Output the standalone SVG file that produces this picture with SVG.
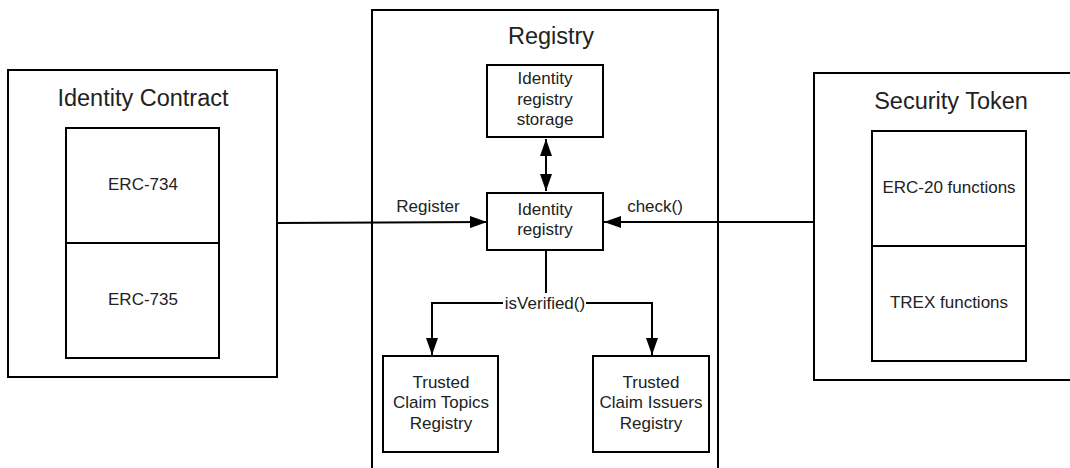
<svg xmlns="http://www.w3.org/2000/svg" width="1070" height="468" viewBox="0 0 1070 468">
<style>
.box{fill:#fff;stroke:#000;stroke-width:2}
.t{font-family:"Liberation Sans",Arial,sans-serif;fill:#222;text-anchor:middle}
.big{font-size:23.5px}
.sm{font-size:17px}
.ln{fill:none;stroke:#000;stroke-width:2}
</style>
<defs>
<marker id="ah" viewBox="0 0 17 12" refX="17" refY="6" markerWidth="17" markerHeight="12" markerUnits="userSpaceOnUse" orient="auto-start-reverse">
<path d="M0,0 L17,6 L0,12 z" fill="#000"/>
</marker>
</defs>
<rect width="1070" height="468" fill="#fff"/>
<g id="identity-contract">
<rect class="box" x="8" y="70" width="269" height="307"/>
<text class="t big" x="143" y="106">Identity Contract</text>
</g>
<g id="erc734">
<rect class="box" x="66" y="128" width="153" height="115"/>
<text class="t sm" x="143" y="190">ERC-734</text>
</g>
<g id="erc735">
<rect class="box" x="66" y="243" width="153" height="115"/>
<text class="t sm" x="143" y="305">ERC-735</text>
</g>
<g id="registry">
<rect class="box" x="372" y="10" width="346" height="470"/>
<text class="t big" x="551" y="44">Registry</text>
</g>
<g id="identity-registry-storage">
<rect class="box" x="487" y="65" width="116" height="72"/>
<text class="t sm" x="545" y="84">Identity</text>
<text class="t sm" x="545" y="105">registry</text>
<text class="t sm" x="545" y="125">storage</text>
</g>
<g id="identity-registry">
<rect class="box" x="487" y="193" width="116" height="57"/>
<text class="t sm" x="545" y="215">Identity</text>
<text class="t sm" x="545" y="235">registry</text>
</g>
<g id="trusted-claim-topics-registry">
<rect class="box" x="383" y="356" width="115" height="96"/>
<text class="t sm" x="441" y="388">Trusted</text>
<text class="t sm" x="441" y="408">Claim Topics</text>
<text class="t sm" x="441" y="429">Registry</text>
</g>
<g id="trusted-claim-issuers-registry">
<rect class="box" x="593" y="356" width="116" height="96"/>
<text class="t sm" x="651" y="388">Trusted</text>
<text class="t sm" x="651" y="408">Claim Issuers</text>
<text class="t sm" x="651" y="429">Registry</text>
</g>
<g id="security-token">
<rect class="box" x="814" y="73" width="262" height="307"/>
<text class="t big" x="951" y="109">Security Token</text>
</g>
<g id="erc20-functions">
<rect class="box" x="872" y="131" width="154" height="115"/>
<text class="t sm" x="949" y="193">ERC-20 functions</text>
</g>
<g id="trex-functions">
<rect class="box" x="872" y="246" width="154" height="115"/>
<text class="t sm" x="949" y="308">TREX functions</text>
</g>
<g id="connectors">
<line class="ln" x1="546" y1="139" x2="546" y2="191" marker-start="url(#ah)" marker-end="url(#ah)"/>
<line class="ln" x1="277" y1="223" x2="487" y2="222" marker-end="url(#ah)"/>
<line class="ln" x1="814" y1="222" x2="604" y2="222" marker-end="url(#ah)"/>
<path class="ln" d="M546,250 V303 H432 V355" marker-end="url(#ah)"/>
<path class="ln" d="M546,303 H652 V355" marker-end="url(#ah)"/>
<rect x="503" y="293" width="83" height="20" fill="#fff"/>
<text class="t sm" x="545" y="309">isVerified()</text>
<text class="t sm" x="428" y="212">Register</text>
<text class="t sm" x="655" y="212">check()</text>
</g>
</svg>
